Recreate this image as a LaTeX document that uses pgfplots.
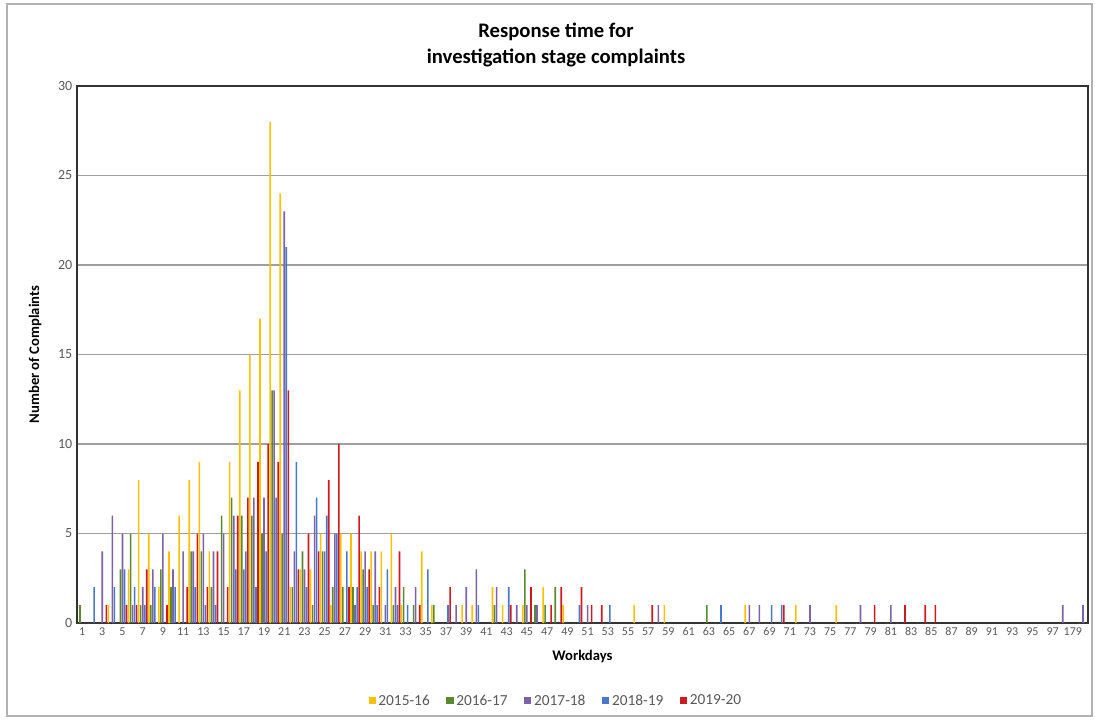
\documentclass[border=0pt]{standalone}
\usepackage{pgfplots}
\usepackage{pgfplotstable}
\usepackage{fontspec}
\setmainfont{Carlito}
\pgfplotsset{compat=1.18}

\definecolor{c15}{HTML}{FFC000}
\definecolor{c16}{HTML}{5A8A30}
\definecolor{c17}{HTML}{7E62A8}
\definecolor{c18}{HTML}{4A78C8}
\definecolor{c19}{HTML}{D01820}
\definecolor{ticktext}{HTML}{595959}

% square legend keys instead of the default bar pair
\pgfplotsset{ybar legend/.style={legend image code/.code={%
  \fill[##1] (0pt,-2.7pt) rectangle (5.4pt,2.7pt);}}}

% workday, then complaints per year: 15-16 16-17 17-18 18-19 19-20
\pgfplotstableread{
x Y G P B R
1 0 1 0 0 0
2 0 0 0 2 0
3 0 0 4 0 1
4 1 0 6 2 0
5 0 3 5 3 1
6 3 5 1 2 1
7 8 1 2 1 3
8 5 1 3 2 0
9 2 3 5 0 1
10 4 2 3 2 0
11 6 0 4 0 2
12 8 4 4 2 5
13 9 4 5 1 2
14 4 2 4 1 4
15 0 6 5 0 2
16 9 7 6 3 6
17 13 6 3 4 7
18 15 6 7 2 9
19 17 5 7 4 10
20 28 13 13 7 9
21 24 5 23 21 13
22 2 2 4 9 3
23 3 4 3 2 5
24 3 1 6 7 4
25 5 4 4 6 8
26 1 2 5 5 10
27 5 2 0 4 2
28 5 2 1 2 6
29 4 3 4 2 3
30 4 1 4 1 2
31 4 0 1 3 0
32 5 1 2 1 4
33 1 2 0 1 0
34 0 1 2 0 1
35 4 0 0 3 0
36 1 1 0 0 0
37 0 0 0 1 2
38 0 0 1 0 0
39 1 0 2 0 0
40 1 0 3 1 0
42 2 1 2 0 0
43 1 0 0 2 1
44 0 0 1 0 0
45 1 3 1 0 2
46 0 1 1 0 0
47 2 1 0 0 1
48 0 2 0 0 2
49 1 0 0 0 0
50 0 0 0 1 2
51 0 0 1 0 1
52 0 0 0 0 1
53 0 0 0 1 0
56 1 0 0 0 0
57 0 0 0 0 1
58 0 0 1 0 0
59 1 0 0 0 0
63 0 1 0 0 0
64 0 0 0 1 0
67 1 0 1 0 0
68 0 0 1 0 0
69 0 0 0 1 0
70 0 0 0 1 1
72 1 0 0 0 0
73 0 0 1 0 0
76 1 0 0 0 0
78 0 0 1 0 0
79 0 0 0 0 1
81 0 0 1 0 0
82 0 0 0 0 1
84 0 0 0 0 1
85 0 0 0 0 1
98 0 0 1 0 0
100 0 0 1 0 0
}\complaints

\begin{document}
\begin{tikzpicture}
\path (0pt,0pt) rectangle (821.25pt,539.25pt);
\draw[gray!60, line width=0.8pt] (5.25pt,2.25pt) rectangle (819pt,536.25pt);
\node[font=\fontsize{15.5}{19.5}\selectfont\bfseries, align=center] at (417pt,505.5pt)
  {Response time for\\investigation stage complaints};
\begin{axis}[
    at={(57.75pt,72pt)}, anchor=south west,
    width=758.25pt, height=402.75pt, scale only axis,
    ybar=0.32pt, bar width=1.2pt,
    xmin=0.5, xmax=100.5,
    ymin=0, ymax=30,
    ytick={0,5,...,30},
    xtick={1,3,...,99},
    xticklabels={1,3,5,7,9,11,13,15,17,19,21,23,25,27,29,31,33,35,37,39,41,43,45,47,49,51,53,55,57,59,61,63,65,67,69,71,73,75,77,79,81,83,85,87,89,91,93,95,97,179},
    major tick length=0pt,
    axis line style={draw=black!80, line width=1pt},
    ymajorgrids,
    grid style={draw=gray!75, line width=0.9pt},
    x tick label style={font=\fontsize{9}{10}\selectfont, text=ticktext},
    y tick label style={font=\fontsize{10.5}{12}\selectfont, text=ticktext, /pgf/number format/assume math mode=true},
    xlabel={Workdays},
    ylabel={Number of Complaints},
    xlabel style={font=\fontsize{11}{13}\selectfont\bfseries, at={(0.5,-0.063)}, anchor=center},
    ylabel style={font=\fontsize{11}{13}\selectfont\bfseries, at={(-0.0415,0.5)}, anchor=center},
    legend columns=5,
    legend style={at={(0.474,-0.145)}, anchor=center, draw=none,
      font=\fontsize{11.5}{13}\selectfont, text=ticktext,
      /tikz/every even column/.append style={column sep=10.5pt}},
]
\addplot[fill=c15, draw=none] table[x=x, y=Y] {\complaints};
\addplot[fill=c16, draw=none] table[x=x, y=G] {\complaints};
\addplot[fill=c17, draw=none] table[x=x, y=P] {\complaints};
\addplot[fill=c18, draw=none] table[x=x, y=B] {\complaints};
\addplot[fill=c19, draw=none] table[x=x, y=R] {\complaints};
\legend{2015-16,2016-17,2017-18,2018-19,2019-20}
\end{axis}
\end{tikzpicture}
\end{document}
